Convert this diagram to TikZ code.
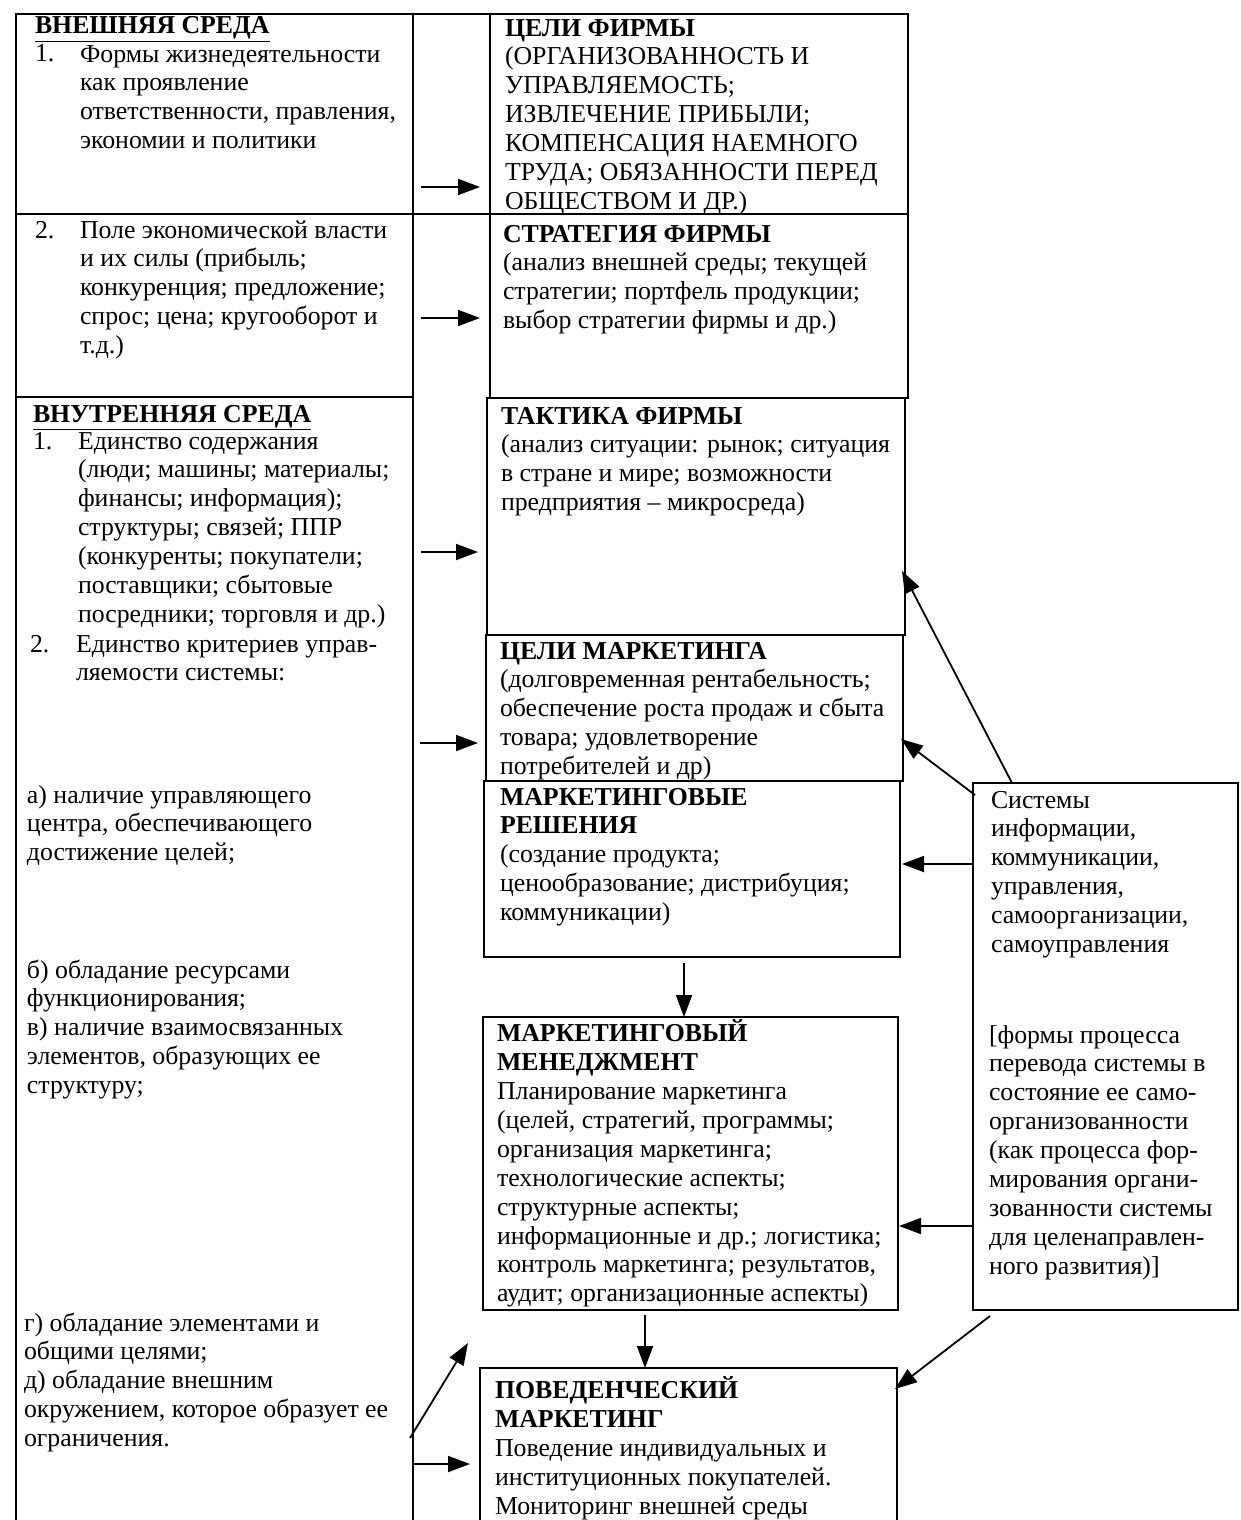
\documentclass[tikz,border=0pt]{standalone}
\usepackage{fontspec}
\setmainfont{Liberation Serif}
\usetikzlibrary{arrows.meta}
\newcommand\myfs{\fontsize{25.8}{28.9}\selectfont}
\begin{document}
\begin{tikzpicture}[x=1pt,y=-1pt,line width=1.7pt,
  box/.style={draw,anchor=north west,inner sep=0pt,outer sep=0pt},
  txt/.style={anchor=north west,inner sep=0pt,outer sep=0pt,align=left,font=\myfs,yshift=20.23pt},
  arr/.style={-{Triangle[length=22pt,width=16pt]},line width=1.8pt}]
\useasboundingbox (0,0) rectangle (1240,1520);
\clip (0,0) rectangle (1240,1520);
\fill[white] (0,0) rectangle (1240,1520);
% boxes
\node[box,minimum width=397pt,minimum height=200pt] (ext1) at (16,14) {};
\node[box,minimum width=397pt,minimum height=183pt] (ext2) at (16,214) {};
\node[box,minimum width=397pt,minimum height=1150pt] (int) at (16,397) {};
\node[box,minimum width=418pt,minimum height=200pt] (cf) at (490,14) {};
\node[box,minimum width=418pt,minimum height=184pt] (sf) at (490,214) {};
\node[box,minimum width=418pt,minimum height=237pt] (tf) at (487,398) {};
\node[box,minimum width=417pt,minimum height=146pt] (cm) at (486,635) {};
\node[box,minimum width=416pt,minimum height=176pt] (mr) at (484,781) {};
\node[box,minimum width=415pt,minimum height=293pt] (mm) at (483,1017) {};
\node[box,minimum width=417pt,minimum height=200pt] (pm) at (480,1368) {};
\node[box,minimum width=265pt,minimum height=527pt] (sys) at (973,783) {};
\draw (ext1.north east) -- (cf.north west);
\draw (ext1.south east) -- (cf.south west);
% left texts
\node[txt] (h1) at (35,34) {\strut\underline{\textbf{ВНЕШНЯЯ СРЕДА}}};
\node[txt] (n1) at (35,62) {\strut 1.};
\node[txt] (t1) at (80,62) {\strut Формы жизнедеятельности\\как проявление\\ответственности, правления,\\экономии и политики};
\node[txt] (n2) at (35,238) {\strut 2.};
\node[txt] (t2) at (80,238) {\strut Поле экономической власти\\и их силы (прибыль;\\конкуренция; предложение;\\спрос; цена; кругооборот и\\т.д.)};
\node[txt] (h2) at (33,422) {\strut\underline{\textbf{ВНУТРЕННЯЯ СРЕДА}}};
\node[txt] (n3) at (33,449) {\strut 1.};
\node[txt] (t3) at (78,449) {\strut Единство содержания\\(люди; машины; материалы;\\финансы; информация);\\структуры; связей; ППР\\(конкуренты; покупатели;\\поставщики; сбытовые\\посредники; торговля и др.)};
\node[txt] (n4) at (30,652) {\strut 2.};
\node[txt] (t4) at (76,652) {\strut Единство критериев управ-\\ляемости системы:};
\node[txt] (ta) at (27,803) {\strut а) наличие управляющего\\центра, обеспечивающего\\достижение целей;};
\node[txt] (tb) at (27,978) {\strut б) обладание ресурсами\\функционирования;\\в) наличие взаимосвязанных\\элементов, образующих ее\\структуру;};
\node[txt] (tg) at (24,1331) {\strut г) обладание элементами и\\общими целями;\\д) обладание внешним\\окружением, которое образует ее\\ограничения.};
% right texts
\node[txt] (tcf) at (505,36) {\strut\textbf{ЦЕЛИ ФИРМЫ}\\(ОРГАНИЗОВАННОСТЬ И\\УПРАВЛЯЕМОСТЬ;\\ИЗВЛЕЧЕНИЕ ПРИБЫЛИ;\\КОМПЕНСАЦИЯ НАЕМНОГО\\ТРУДА; ОБЯЗАННОСТИ ПЕРЕД\\ОБЩЕСТВОМ И ДР.)};
\node[txt] (tsf) at (503,242) {\strut\textbf{СТРАТЕГИЯ ФИРМЫ}\\(анализ внешней среды; текущей\\стратегии; портфель продукции;\\выбор стратегии фирмы и др.)};
\node[txt] (ttf) at (501,424) {\strut\textbf{ТАКТИКА ФИРМЫ}\\(анализ ситуации: рынок; ситуация\\в стране и мире; возможности\\предприятия – микросреда)};
\node[txt] (tcm) at (500,659) {\strut\textbf{ЦЕЛИ МАРКЕТИНГА}\\(долговременная рентабельность;\\обеспечение роста продаж и сбыта\\товара; удовлетворение\\потребителей и др)};
\node[txt] (tmr) at (500,805) {\strut\textbf{МАРКЕТИНГОВЫЕ}\\\textbf{РЕШЕНИЯ}\\(создание продукта;\\ценообразование; дистрибуция;\\коммуникации)};
\node[txt] (tmm) at (497,1040) {\strut\textbf{МАРКЕТИНГОВЫЙ}\\\textbf{МЕНЕДЖМЕНТ}\\Планирование маркетинга\\(целей, стратегий, программы;\\организация маркетинга;\\технологические аспекты;\\структурные аспекты;\\информационные и др.; логистика;\\контроль маркетинга; результатов,\\аудит; организационные аспекты)};
\node[txt] (tpm) at (495,1397) {\strut\textbf{ПОВЕДЕНЧЕСКИЙ}\\\textbf{МАРКЕТИНГ}\\Поведение индивидуальных и\\институционных покупателей.\\Мониторинг внешней среды};
\node[txt] (ts1) at (991,808) {\strut Системы\\информации,\\коммуникации,\\управления,\\самоорганизации,\\самоуправления};
\node[txt] (ts2) at (989,1043) {\strut[формы процесса\\перевода системы в\\состояние ее само-\\организованности\\(как процесса фор-\\мирования органи-\\зованности системы\\для целенаправлен-\\ного развития)]};
% arrow end coordinates
\coordinate (a1) at (421,187);
\coordinate (a2) at (421,318);
\coordinate (a3) at (421,552);
\coordinate (a4) at (420,743);
\coordinate (a12) at (410,1438);
\coordinate (b12) at (468,1343);
\coordinate (a13) at (412,1464);
\coordinate (b13) at (470,1464);
\coordinate (s5) at (1012,783);
\coordinate (e5) at (902,571);
\coordinate (s6) at (975,795);
\coordinate (e6) at (901,739);
\coordinate (s9) at (990,1316);
\coordinate (e9) at (895,1389);
\coordinate (s10) at (684,963);
\coordinate (s11) at (645,1315);
% arrows
\draw[arr,shorten >=10pt] (a1) -- (a1 -| cf.west);
\draw[arr,shorten >=10pt] (a2) -- (a2 -| sf.west);
\draw[arr,shorten >=9pt] (a3) -- (a3 -| tf.west);
\draw[arr,shorten >=8pt] (a4) -- (a4 -| cm.west);
\draw[arr] (a12) -- (b12);
\draw[arr] (a13) -- (b13);
\draw[arr] (s5) -- (e5);
\draw[arr] (s6) -- (e6);
\draw[arr,shorten >=2pt] (sys.west |- 0,864) -- (mr.east |- 0,864);
\draw[arr,shorten >=1pt] (sys.west |- 0,1226) -- (mm.east |- 0,1226);
\draw[arr] (s9) -- (e9);
\draw[arr] (s10) -- (s10 |- mm.north);
\draw[arr] (s11) -- (s11 |- pm.north);
\end{tikzpicture}
\end{document}
